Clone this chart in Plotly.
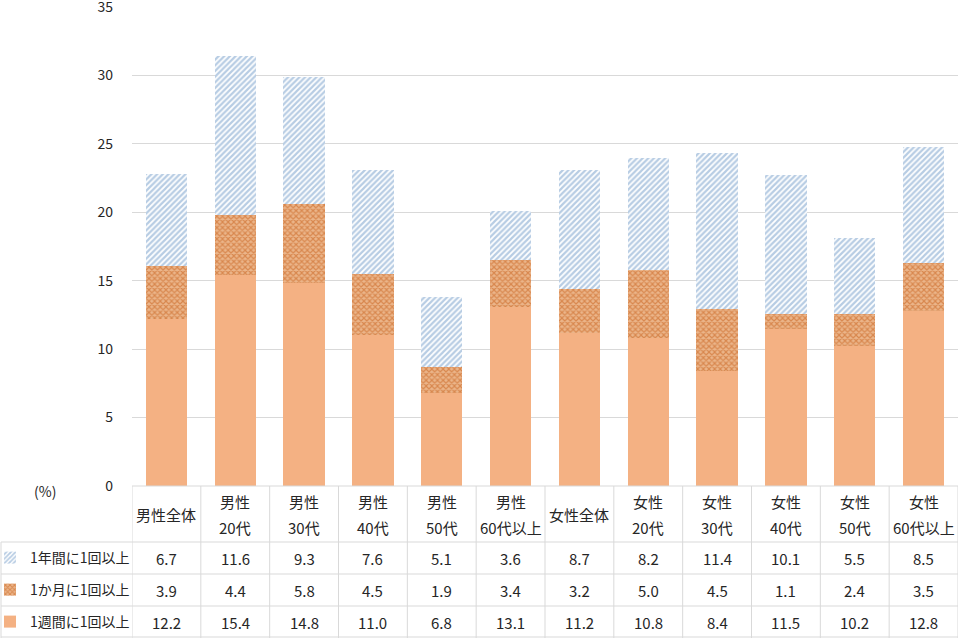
import plotly.graph_objects as go

categories = ["男性全体", "男性20代", "男性30代", "男性40代", "男性50代", "男性60代以上",
              "女性全体", "女性20代", "女性30代", "女性40代", "女性50代", "女性60代以上"]
header_line1 = ["男性全体", "男性", "男性", "男性", "男性", "男性",
                "女性全体", "女性", "女性", "女性", "女性", "女性"]
header_line2 = ["", "20代", "30代", "40代", "50代", "60代以上",
                "", "20代", "30代", "40代", "50代", "60代以上"]
yearly = [6.7, 11.6, 9.3, 7.6, 5.1, 3.6, 8.7, 8.2, 11.4, 10.1, 5.5, 8.5]
monthly = [3.9, 4.4, 5.8, 4.5, 1.9, 3.4, 3.2, 5.0, 4.5, 1.1, 2.4, 3.5]
weekly = [12.2, 15.4, 14.8, 11.0, 6.8, 13.1, 11.2, 10.8, 8.4, 11.5, 10.2, 12.8]
series_names = ["1年間に1回以上", "1か月に1回以上", "1週間に1回以上"]
y_ticks = [0, 5, 10, 15, 20, 25, 30, 35]

FONT = "Noto Sans CJK JP"
W, H = 960, 638
L, R, T, B = 132, 2, 7, 152
PW, PH = W - L - R, H - T - B
GRID = "#d9d9d9"
TXT = "#262626"

def py(px):  # pixel y -> paper y
    return (H - B - px) / PH

def px_x(px):
    return (px - L) / PW

fig = go.Figure()
fig.add_trace(go.Bar(x=categories, y=weekly, name=series_names[2], legend="legend3",
                     marker=dict(color="#F4B183", line=dict(width=0))))
fig.add_trace(go.Bar(x=categories, y=monthly, name=series_names[1], legend="legend2",
                     marker=dict(color="#F4B183", line=dict(width=0),
                                 pattern=dict(shape="x", fgcolor="#C55A11", bgcolor="#EBB58A",
                                              size=4, solidity=0.5))))
fig.add_trace(go.Bar(x=categories, y=yearly, name=series_names[0], legend="legend",
                     marker=dict(color="white", line=dict(width=0),
                                 pattern=dict(shape="/", fgcolor="#6F9AC8", bgcolor="white",
                                              size=4, solidity=0.55))))

shapes = []
line = dict(color=GRID, width=1)
shapes.append(dict(type="line", xref="paper", yref="paper", x0=0, x1=1, y0=0, y1=0, line=line))
for pyv in [542, 574, 606, 637]:
    shapes.append(dict(type="line", xref="paper", yref="paper", x0=px_x(1), x1=1,
                       y0=py(pyv), y1=py(pyv), line=line))
shapes.append(dict(type="line", xref="paper", yref="paper", x0=px_x(1), x1=px_x(1),
                   y0=py(542), y1=py(638), line=line))
for i in range(len(categories) + 1):
    shapes.append(dict(type="line", xref="x", yref="paper", x0=i - 0.5, x1=i - 0.5,
                       y0=0, y1=py(638), line=line))

hfont = dict(size=15, color=TXT, family=FONT)
anc = dict(showarrow=False, xanchor="center", yanchor="middle")
annotations = []
annotations.append(dict(text="(%)", xref="paper", yref="paper", x=px_x(45), y=py(491),
                        font=dict(size=14, color=TXT, family=FONT), **anc))
for i, (l1, l2) in enumerate(zip(header_line1, header_line2)):
    if l2:
        annotations.append(dict(text=l1, xref="x", yref="paper", x=i, y=py(501), font=hfont, **anc))
        annotations.append(dict(text=l2, xref="x", yref="paper", x=i, y=py(527), font=hfont, **anc))
    else:
        annotations.append(dict(text=l1, xref="x", yref="paper", x=i, y=py(514), font=hfont, **anc))
for row, vals in zip([558, 590, 622], [yearly, monthly, weekly]):
    for i, v in enumerate(vals):
        annotations.append(dict(text=f"{v:.1f}", xref="x", yref="paper", x=i, y=py(row),
                                font=hfont, **anc))

leg_common = dict(xanchor="left", yanchor="middle", bgcolor="rgba(0,0,0,0)",
                  font=dict(size=14, color=TXT, family=FONT), itemwidth=30)
fig.update_layout(
    width=W, height=H,
    margin=dict(l=L, r=R, t=T, b=B, autoexpand=False),
    paper_bgcolor="white", plot_bgcolor="white",
    barmode="stack", bargap=0.4,
    font=dict(family=FONT, color=TXT),
    showlegend=True,
    legend=dict(x=px_x(-10), y=py(558), **leg_common),
    legend2=dict(x=px_x(-10), y=py(590), **leg_common),
    legend3=dict(x=px_x(-10), y=py(622), **leg_common),
    xaxis=dict(showticklabels=False, showgrid=False, showline=False, zeroline=False,
               range=[-0.5, len(categories) - 0.5]),
    yaxis=dict(range=[0, 35], tickvals=y_ticks, showgrid=True, gridcolor=GRID, gridwidth=1,
               zeroline=False, showline=False, ticks="", ticklabelstandoff=18,
               ticklabeloverflow="allow",
               tickfont=dict(size=14, color=TXT, family=FONT)),
    shapes=shapes, annotations=annotations,
)
fig.write_html("out.html", config={"displayModeBar": False},
               post_script="document.body.style.margin='0';")
